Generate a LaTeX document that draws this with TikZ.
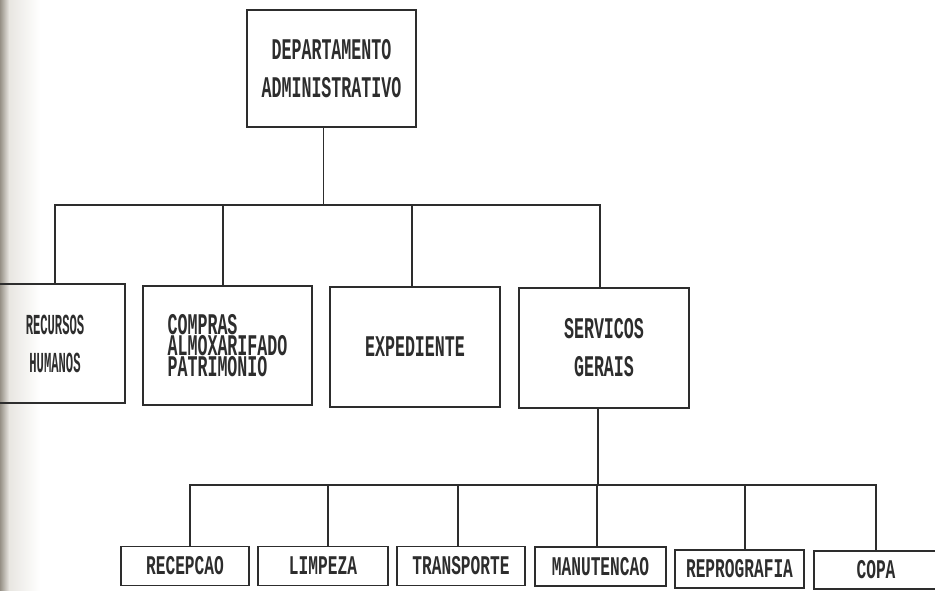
\documentclass[tikz,border=0pt]{standalone}
\usepackage{fontspec}
% Dot-matrix style lettering: a condensed bold monospace face
\newfontfamily\dmwide[FakeStretch=0.555]{Liberation Mono Bold}
\newfontfamily\dmnarrow[FakeStretch=0.42]{Liberation Mono Bold}
\newfontfamily\dmsmall[FakeStretch=0.6]{Liberation Mono Bold}
\definecolor{ink}{RGB}{45,45,45}
\definecolor{fold}{RGB}{150,144,134}
\definecolor{foldlight}{RGB}{232,230,225}
\begin{document}
\begin{tikzpicture}[x=1pt,y=-1pt,
  box/.style={draw=ink,line width=1.3pt,rectangle,inner sep=0pt,
    text=ink,align=center},
  conn/.style={draw=ink,line width=1.3pt},
  big/.style={font=\dmwide\fontsize{30}{38}\selectfont},
  tight/.style={font=\dmwide\fontsize{30}{20}\selectfont,align=left},
  slim/.style={font=\dmnarrow\fontsize{29}{38}\selectfont},
  small/.style={font=\dmsmall\fontsize{27}{27}\selectfont}]
  \useasboundingbox (0,0) rectangle (935,591);
  \fill[white] (0,0) rectangle (935,591);

  % binding fold along the left margin of the sheet
  \shade[left color=foldlight,right color=white] (9,0) rectangle (40,591);
  \shade[left color=fold,right color=foldlight] (0,0) rectangle (9,591);

  % head of the department
  \node[box,big,minimum width=169,minimum height=117] (dep) at (331.5,68.5)
    {DEPARTAMENTO\\ADMINISTRATIVO};

  % first level
  \node[box,slim,minimum width=140,minimum height=119] (rh) at (55,343.5)
    {RECURSOS\\HUMANOS};
  \node[box,tight,minimum width=169,minimum height=119] (cmp) at (227.5,345.5)
    {COMPRAS\\ALMOXARIFADO\\PATRIMONIO};
  \node[box,big,minimum width=170,minimum height=120] (exp) at (415,347)
    {EXPEDIENTE};
  \node[box,big,minimum width=170,minimum height=120] (srv) at (604,348)
    {SERVICOS\\GERAIS};

  % second level under general services
  \node[box,small,minimum width=128,minimum height=39] (rec) at (185,566)  {RECEPCAO};
  \node[box,small,minimum width=130,minimum height=39] (lim) at (323,566)  {LIMPEZA};
  \node[box,small,minimum width=128,minimum height=39] (tra) at (461,566)  {TRANSPORTE};
  \node[box,small,minimum width=131,minimum height=39] (man) at (600.5,566.5) {MANUTENCAO};
  \node[box,small,minimum width=129,minimum height=38] (rep) at (739.5,569) {REPROGRAFIA};
  \node[box,small,minimum width=124,minimum height=38] (copa) at (876,570) {COPA};

  % bus lines
  \coordinate (tbus) at (0,205);
  \coordinate (bbus) at (0,485);

  \draw[conn] ([xshift=-8pt]dep.south) -- ([xshift=-8pt]dep.south |- tbus);
  \draw[conn] (rh.north) |- ([xshift=-4pt]srv.north |- tbus) -- ([xshift=-4pt]srv.north);
  \draw[conn] ([xshift=-4.5pt]cmp.north) -- ([xshift=-4.5pt]cmp.north |- tbus);
  \draw[conn] ([xshift=-3pt]exp.north) -- ([xshift=-3pt]exp.north |- tbus);

  \draw[conn] ([xshift=-6pt]srv.south) -- ([xshift=-6pt]srv.south |- bbus);
  \draw[conn] ([xshift=5pt]rec.north) |- (copa.north |- bbus) -- (copa.north);
  \draw[conn] ([xshift=5pt]lim.north) -- ([xshift=5pt]lim.north |- bbus);
  \draw[conn] ([xshift=-3pt]tra.north) -- ([xshift=-3pt]tra.north |- bbus);
  \draw[conn] ([xshift=-3.5pt]man.north) -- ([xshift=-3.5pt]man.north |- bbus);
  \draw[conn] ([xshift=5.5pt]rep.north) -- ([xshift=5.5pt]rep.north |- bbus);
\end{tikzpicture}
\end{document}
